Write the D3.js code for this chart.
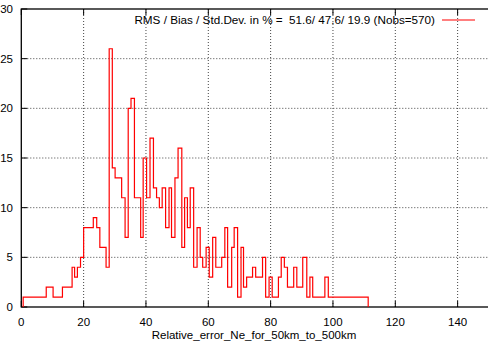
<!DOCTYPE html>
<html>
<head>
<meta charset="utf-8">
<script src="https://cdn.jsdelivr.net/npm/d3@7"></script>
<style>
  body { margin: 0; background: #fff; }
  svg { display: block; font-family: "Liberation Sans", Arial, sans-serif; }
  .grid line { stroke: #444; stroke-dasharray: 1,2; stroke-width: 1; }
</style>
</head>
<body>
<script>
// step start positions (relative error, %) and counts
const binStart = [0.6, 8.0, 10.2, 13.2, 16.3, 17.1, 18.0, 19.0, 20.0, 23.1,
  24.2, 25.2, 27.2, 28.2, 29.2, 30.1, 32.2, 33.3, 34.3, 35.2,
  36.3, 38.3, 39.1, 40.2, 41.3, 42.4, 43.4, 44.3, 45.2, 46.3,
  47.4, 48.2, 49.3, 50.3, 51.5, 52.4, 53.3, 54.2, 55.3, 56.4,
  57.4, 58.2, 59.3, 60.3, 61.4, 62.4, 64.3, 65.3, 66.2, 67.5,
  68.3, 69.4, 70.5, 71.3, 72.3, 74.2, 75.2, 77.4, 78.4, 79.5,
  80.5, 82.5, 83.4, 84.4, 85.4, 87.4, 88.4, 90.3, 91.6, 92.6,
  93.5, 97.4, 98.5];
const binCount = [1, 2, 1, 2, 4, 3, 4, 5, 8, 9,
  8, 6, 4, 26, 14, 13, 11, 7, 20, 21,
  11, 7, 15, 11, 17, 12, 11, 10, 12, 8,
  12, 7, 13, 16, 6, 11, 8, 12, 4, 8,
  5, 4, 6, 3, 7, 4, 5, 8, 2, 6,
  8, 1, 6, 2, 3, 4, 3, 5, 1, 3,
  1, 3, 5, 4, 2, 4, 2, 5, 1, 3,
  1, 3, 1];
const lastEdge = 111.3;

const xTicks = [0, 20, 40, 60, 80, 100, 120, 140];
const yTicks = [0, 5, 10, 15, 20, 25, 30];
const legendText = "RMS / Bias / Std.Dev. in % =  51.6/ 47.6/ 19.9 (Nobs=570)";
const xTitle = "Relative_error_Ne_for_50km_to_500km";

const W = 488, H = 344;
const x = d3.scaleLinear().domain([0, 150]).range([21.3, 488.8]);
const y = d3.scaleLinear().domain([0, 30]).range([307, 9]);

const svg = d3.select('body').append('svg')
    .attr('width', W)
    .attr('height', H);

// grid
const grid = svg.append('g').attr('class', 'grid');
grid.selectAll('line.gx')
    .data(xTicks.filter(d => d > 0))
    .enter().append('line')
    .attr('x1', d => x(d)).attr('x2', d => x(d))
    .attr('y1', y(0)).attr('y2', y(30));
grid.selectAll('line.gy')
    .data(yTicks.filter(d => d > 0 && d < 30))
    .enter().append('line')
    .attr('x1', x(0)).attr('x2', x(150))
    .attr('y1', d => y(d)).attr('y2', d => y(d));

// ticks (inward, mirrored top)
const ticks = svg.append('g').attr('stroke', '#000').attr('stroke-width', 1);
xTicks.forEach(t => {
    ticks.append('line').attr('x1', x(t)).attr('x2', x(t)).attr('y1', y(0)).attr('y2', y(0) - 6);
    ticks.append('line').attr('x1', x(t)).attr('x2', x(t)).attr('y1', y(30)).attr('y2', y(30) + 6);
});
yTicks.forEach(t => {
    ticks.append('line').attr('x1', x(0)).attr('x2', x(0) + 6).attr('y1', y(t)).attr('y2', y(t));
});

// frame
svg.append('rect')
    .attr('x', x(0)).attr('y', y(30))
    .attr('width', x(150) - x(0)).attr('height', y(0) - y(30))
    .attr('fill', 'none').attr('stroke', '#000').attr('stroke-width', 1.3);

// tick labels
svg.append('g').selectAll('text')
    .data(xTicks).enter().append('text')
    .attr('x', d => x(d)).attr('y', 326)
    .attr('text-anchor', 'middle')
    .attr('font-size', 11.5)
    .text(d => d);
svg.append('g').selectAll('text')
    .data(yTicks).enter().append('text')
    .attr('x', 13).attr('y', d => y(d) + 4)
    .attr('text-anchor', 'end')
    .attr('font-size', 11.5)
    .text(d => d);

svg.append('text')
    .attr('x', 254).attr('y', 339)
    .attr('text-anchor', 'middle')
    .attr('font-size', 11.5)
    .text(xTitle);

// histogram steps
const pts = [[binStart[0], 0]]
    .concat(binStart.map((s, i) => [s, binCount[i]]))
    .concat([[lastEdge, binCount[binCount.length - 1]], [lastEdge, 0]]);
const line = d3.line()
    .x(d => x(d[0]))
    .y(d => y(d[1]))
    .curve(d3.curveStepAfter);
svg.append('path')
    .datum(pts)
    .attr('fill', 'none')
    .attr('stroke', '#ff0000')
    .attr('stroke-width', 1.2)
    .attr('d', line);

// legend
svg.append('text')
    .attr('x', 435).attr('y', 24)
    .attr('text-anchor', 'end')
    .attr('font-size', 11.7)
    .style('white-space', 'pre')
    .text(legendText);
svg.append('line')
    .attr('x1', 442).attr('x2', 475)
    .attr('y1', 20).attr('y2', 20)
    .attr('stroke', '#ff0000').attr('stroke-width', 1.2);
</script>
</body>
</html>
